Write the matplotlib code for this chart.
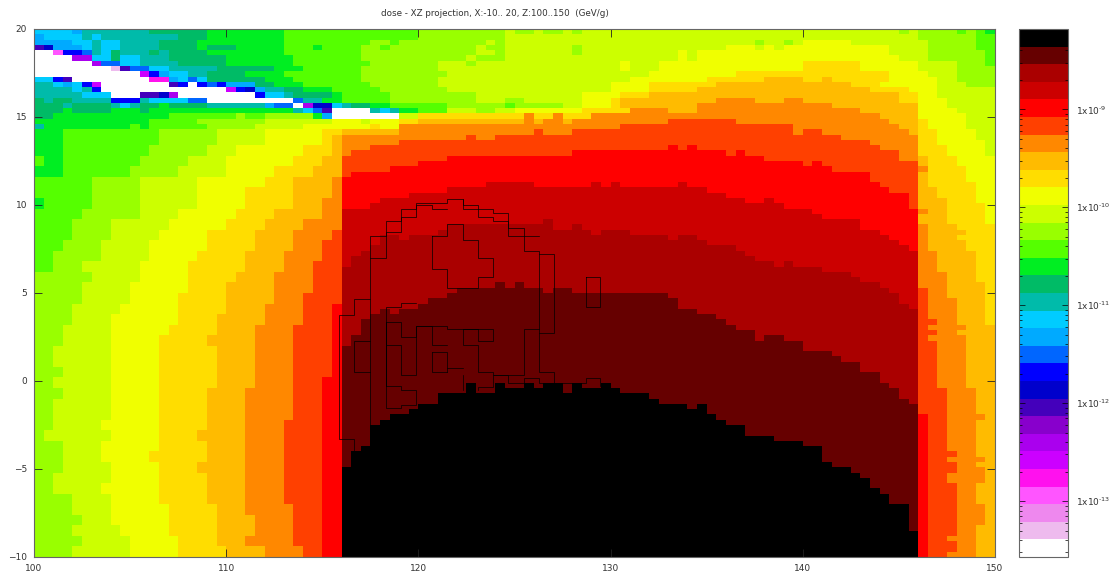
import numpy as np
import matplotlib
matplotlib.use('Agg')
import matplotlib.pyplot as plt
from matplotlib.colors import ListedColormap, LogNorm

# palette, lowest band first; each letter in the tables below is one band
codes = 'dcbaZYXWVUTSRQPONMLKJIHGFEDCBA'
palette = ['#ffffff', '#eebbee', '#ee88ee', '#ff55ff', '#ff11ee', '#cc00ff', '#aa00ee', '#8800cc',
           '#4400bb', '#0000cc', '#0000ff', '#0066ff', '#00aaff', '#00ccff', '#00bbaa', '#00bb66',
           '#00ee22', '#55ff00', '#99ff00', '#ccff00', '#f0ff00', '#ffdd00', '#ffbb00', '#ff8800',
           '#ff4000', '#ff0000', '#cc0000', '#aa0000', '#660000', '#000000']
dose_min = 10 ** -13.57
dose_max = 10 ** -8.18

# rows from the top of the plot, "band + first column", up to column 91
top_rows = [
    'Q0 R4 P5 O12 N18 M26 L40 K49 L50 K52 L53 K55 L56 K57 L90 K91',
    'R0 Q1 P5 Q6 P7 O15 N18 M26 L40 K49',
    'R0 Q4 P6 Q7 P9 O13 N17 M26 L35 M37 L38 K47 L48 K49 L75 K76 L78 K79 J80 K85',
    'V0 U1 R2 Q5 P6 Q7 P9 O13 N17 O18 N21 M26 N29 M30 L34 M36 L37 K46 L47 K49 L56 K57 J72 K75 J76 K77 J78 K89',
    'd0 a2 T3 S5 P6 Q7 O8 P9 O12 P13 O14 N18 M26 L34 K46 L48 K49 L56 K57 J67 K68 J69 K89',
    'd0 X4 Q6 O8 Q9 P11 O14 N20 M27 L34 K45 L46 K49 J67 K68 J69 K90',
    'd0 X6 S7 Q9 P11 O15 N20 M27 L35 K42 L45 K46 J61 K62 J65 I80 J86',
    'd0 c8 V9 S10 Q12 P14 O19 N25 M28 L34 K42 J61 K62 J65 I80 J86',
    'd0 Y11 T12 R13 Q14 P16 O18 N22 M26 L34 K43 J64 I73 J89',
    'Q0 T2 V3 d4 Z12 R14 Q15 S16 Q17 O18 N24 M27 L34 K42 J62 I70 H76 I80 H82 I83 J89',
    'P0 Q2 R3 Q4 T5 Y6 d7 V14 T15 d16 T17 S18 T19 R20 O23 N25 M28 L35 K42 J60 I64 H71 I85 J88',
    'P0 Q4 P5 T6 d7 Y20 T21 U22 R23 P24 O26 N28 M31 L36 K43 J60 I64 H69 I87 J91',
    'P0 Q5 d8 V11 U13 X14 d15 T23 Q24 P26 O27 N31 M32 L37 K46 J57 I61 H64 I90',
    'O0 P1 O2 P4 T8 P11 Q12 S16 d18 S27 P28 N30 M32 L37 K46 L49 K51 J57 I60 H61 G71 H75 G78 H80 I90',
    'O0 P3 O4 P8 Q9 P10 O11 N13 O14 P18 R24 S25 d27 X28 U29 Q31 P32 O33 N35 M37 L43 M49 L50 K55 J57 I60 H61 G69 H83',
    'O0 N3 O4 N8 O11 N12 P27 Q28 S29 V30 d31 P35 Q36 P37 N38 M40 K43 L46 K48 J50 I57 G62 H66 G69 H86',
    'O0 N2 M14 L21 M22 L24 N29 R30 d31 K38 I40 G51 I52 G54 I55 G58 H88',
    'N0 M12 L17 K24 J31 K34 J35 I38 H40 G51 H52 G53 H55 G56 H89',
    'P0 N1 M10 N11 M12 L18 K23 J28 I35 J36 G38 H90',
    'N0 M3 L13 K19 J24 I30 H32 G38 H91',
]

# columns 0..31 below that, each entry covers two rows
left_rows = [
    'N0 M3 L13 K19 J24 I30 H31', 'N0 M3 L12 K18 J21 I28 H31', 'M0 N1 M3 L11 K16 J20 I27 H30',
    'N0 M3 L10 K15 J20 I25 H29', 'M0 L6 K11 J17 I24 H27 G31', 'M0 L6 K11 J17 I22 H27 G31',
    'N0 M1 L6 K11 J17 I22 H27 G30', 'M0 L5 K11 J15 I21 H25 G30', 'M0 L4 K8 J14 I20 H24 G28',
    'M0 L4 K8 J13 I18 H23 G27 F31', 'M0 L3 K7 J12 I18 H23 G27 F30', 'M0 L2 K7 J12 I17 H22 G26 F30',
    'M0 L2 K5 J11 I16 H22 G26 F29', 'L0 K6 J11 I16 H21 G25 F29', 'L0 K5 J10 I16 H20 G25 F29',
    'L0 K5 J10 I15 H20 G25 F28', 'L0 K4 J9 I15 H20 G24 F28 E31', 'L0 K4 J8 I15 H19 G24 F28 E31',
    'L0 K3 J8 I14 H19 G23 F27 E31', 'L0 K3 J8 I13 H18 G23 F27 E31', 'L0 K2 J8 I13 H19 G23 F27 E31',
    'L0 K2 J8 I13 H19 G23 F27 E31', 'L0 K3 J8 I13 H19 G23 F27 E31', 'L0 K2 J8 I13 H19 G23 F27 E30',
    'L0 K3 J8 I13 H18 G22 F27 E30', 'L0 K2 J8 I13 H18 G22 F27 E30', 'L0 K2 J8 I13 H18 G22 F27 E30',
    'L0 K2 J7 I13 H18 G22 F26 E30', 'L0 K1 J8 I13 H17 G22 F26 E30', 'L0 K3 J7 I13 H18 G22 F26 E30',
    'L0 K3 J7 I12 H18 G22 F26 E30', 'L0 K3 J8 I13 H17 G22 F26 E30', 'L0 K2 J8 I13 H18 G22 F26 E30',
    'L0 K2 J7 I13 H18 G22 F26 E30', 'L0 K4 J8 I13 H18 G22 F26 E30', 'L0 K4 J8 I14 H19 G22 F27 E30',
    'L0 K5 J8 I14 H19 G23 F27 E30', 'L0 K4 J9 I14 H19 G23 F27 E30', 'L0 K5 J10 I15 H19 G22 F27 E30',
    'L0 K4 J10 I15 H20 G24 F28 E30',
]

# first row of each band in columns 32..91
top_F = [24, 23, 23, 22, 22, 22, 21, 21, 21, 21, 21, 21, 21, 20, 21, 21, 20, 20, 20, 20, 19, 20, 20, 20, 19, 19, 19, 19, 19, 18,
         18, 18, 18, 18, 17, 17, 17, 17, 17, 17, 17, 18, 18, 18, 18, 18, 18, 20, 19, 19, 20, 20, 21, 21, 21, 22, 23, 23, 25, 25]
top_E = [28, 27, 27, 27, 27, 26, 26, 26, 25, 25, 25, 24, 24, 24, 24, 24, 24, 24, 24, 24, 24, 24, 24, 24, 23, 23, 23, 23, 23, 23,
         23, 23, 23, 23, 22, 23, 22, 23, 23, 23, 24, 23, 24, 24, 25, 25, 25, 25, 26, 25, 26, 27, 27, 27, 27, 29, 30, 31, 31, 34]
top_D = [34, 34, 34, 33, 32, 32, 32, 31, 31, 31, 31, 30, 30, 30, 30, 29, 29, 29, 29, 29, 30, 30, 30, 30, 30, 30, 29, 30, 29, 30,
         30, 30, 30, 30, 30, 29, 30, 30, 31, 31, 32, 32, 33, 33, 32, 33, 34, 34, 34, 35, 36, 36, 36, 36, 38, 38, 39, 40, 41, 42]
top_C = [45, 43, 42, 41, 39, 39, 40, 39, 39, 39, 38, 37, 37, 37, 37, 37, 37, 37, 37, 37, 37, 36, 38, 38, 37, 38, 39, 38, 38, 38,
         39, 39, 39, 39, 40, 39, 39, 40, 41, 41, 41, 42, 43, 44, 44, 45, 44, 45, 45, 45, 46, 46, 46, 47, 48, 48, 49, 50, 52, 53]
top_B = [60, 58, 55, 54, 53, 54, 53, 53, 52, 51, 51, 50, 49, 49, 49, 49, 48, 49, 48, 49, 49, 50, 49, 49, 50, 50, 50, 50, 50, 50,
         50, 50, 50, 50, 51, 53, 53, 54, 54, 55, 56, 57, 57, 59, 58, 58, 59, 59, 61, 61, 61, 62, 63, 63, 65, 65, 67, 68, 70, 71]
top_A = [83, 80, 79, 75, 74, 73, 73, 72, 71, 71, 69, 69, 69, 67, 69, 69, 67, 68, 68, 67, 68, 67, 67, 69, 67, 68, 68, 67, 68, 69,
         69, 69, 70, 71, 71, 71, 72, 71, 73, 74, 75, 75, 77, 77, 77, 78, 78, 78, 79, 79, 82, 83, 83, 84, 85, 87, 88, 90, 90, 95]

# columns 92..99 top to bottom, "band + first row"
right_cols = [
    'L0 K2 J8 I17 H24 G26 H27 G34 H35 G37 F49 E73',
    'L0 K6 J9 I19 H30 G42 F55 G56 F57 G58 F59',
    'L0 K6 J13 I22 H32 G46 F68',
    'L0 K6 J15 I24 H37 G51 F80 G81 F82 G84 F86 G96 F97 G99',
    'M0 L1 K10 J16 I26 H38 I39 H40 G56 H57 G58',
    'L0 K11 J19 I29 H42 G68',
    'M0 L4 K11 J21 I33 H48 G73 H74 G81 H82 G83 H86 G90 H94',
    'N0 M1 L7 K11 J24 I37 H56',
]

# region outlines
outline_x = [
    [116.67, 116.67, 115.87, 115.87, 116.67, 116.67, 117.46, 117.46, 118.30, 118.30, 119.08, 119.08, 119.87, 119.87, 121.47, 121.47,
     122.30, 122.30, 123.08, 123.08, 123.88, 123.88, 124.68, 124.68, 125.48, 125.48, 126.29, 126.29, 127.07, 127.07],
    [117.46, 117.46],
    [117.46, 118.30, 118.30, 119.08, 119.08, 119.87, 119.87, 120.69, 120.69, 121.47],
    [122.30, 122.30, 123.08, 123.08, 123.88, 123.88, 124.68, 124.68, 126.29],
    [120.69, 121.47, 121.47, 122.30, 122.30, 123.08, 123.08, 123.88, 123.88, 123.08, 123.08, 121.47, 121.47, 120.69, 120.69],
    [126.29, 127.07, 127.07, 126.29],
    [128.70, 129.47, 129.47, 128.70, 128.70],
    [117.46, 116.67, 116.67, 117.46],
    [119.87, 119.08, 119.08, 118.30, 118.30, 119.08, 119.08, 119.87, 119.87, 119.08, 119.08, 118.30, 118.30, 119.08, 119.08, 119.87, 119.87, 120.69, 120.69, 121.47],
    [118.30, 119.08, 119.08, 119.87, 119.87, 121.47, 121.47, 123.88, 123.88, 123.08, 123.08, 122.30, 122.30, 123.08, 123.08, 123.88, 123.88, 125.48, 125.48, 126.29],
    [120.69, 121.47, 121.47],
    [120.69, 120.69, 121.47],
    [121.47, 122.30],
    [122.30, 122.30],
    [123.08, 123.08, 123.88, 123.88, 124.68, 124.68, 125.48, 125.48, 126.29, 126.29, 127.07, 127.45, 127.97, 128.70, 128.70, 129.47, 129.47],
]
outline_y = [
    [-3.98, -3.30, -3.30, 3.75, 3.75, 4.64, 4.64, 8.24, 8.24, 9.11, 9.11, 9.75, 9.75, 10.13, 10.13, 10.36,
     10.36, 9.98, 9.98, 9.75, 9.75, 9.53, 9.53, 8.67, 8.67, 7.39, 7.39, 0.53, 0.53, -0.09],
    [4.64, -2.50],
    [6.97, 6.97, 8.45, 8.45, 9.34, 9.34, 9.98, 9.98, 9.75, 9.75],
    [10.36, 9.75, 9.75, 9.34, 9.34, 9.11, 9.11, 8.24, 8.24],
    [8.24, 8.24, 8.90, 8.90, 8.01, 8.01, 6.97, 6.97, 5.89, 5.89, 5.27, 5.27, 6.34, 6.34, 8.24],
    [7.20, 7.20, 2.71, 2.71],
    [5.89, 5.89, 4.19, 4.19, 5.89],
    [2.27, 2.27, 0.53, 0.53],
    [4.41, 4.41, 4.19, 4.19, -1.55, -1.55, -1.36, -1.36, -0.51, -0.51, -0.28, -0.28, 3.33, 3.33, 2.50, 2.50, 3.14, 3.14, 2.06, 2.06],
    [2.06, 2.06, 0.34, 0.34, 3.14, 3.14, 2.94, 2.94, 2.27, 2.27, 2.94, 2.94, 2.06, 2.06, 0.53, 0.53, 0.34, 0.34, 2.94, 2.94],
    [1.63, 1.63, 0.53],
    [1.63, 0.53, 0.53],
    [0.76, 0.76],
    [0.34, -0.51],
    [-0.51, -0.32, -0.32, 0.34, 0.34, -0.09, -0.09, 0.15, 0.15, -0.09, -0.09, -0.09, -0.09, -0.09, 0.15, 0.15, -0.28],
]

x_ticks = [100, 110, 120, 130, 140, 150]
y_ticks = [-10, -5, 0, 5, 10, 15, 20]
cb_ticks = [1e-13, 1e-12, 1e-11, 1e-10, 1e-9]
cb_labels = ['-13', '-12', '-11', '-10', '-9']


def fill(spec, start, stop, put):
    tokens = spec.split()
    for k, tok in enumerate(tokens):
        end = int(tokens[k + 1][1:]) if k + 1 < len(tokens) else stop
        put(int(tok[1:]) + start, end + start if k + 1 < len(tokens) else stop, codes.index(tok[0]))


bands = np.zeros((100, 100), dtype=int)


def put_row(rows):
    def put(a, b, v):
        bands[rows, a:b] = v
    return put


for r, spec in enumerate(top_rows):
    fill(spec, 0, 92, put_row(r))
for r, spec in enumerate(left_rows):
    fill(spec, 0, 32, put_row(slice(20 + 2 * r, 22 + 2 * r)))
bands[20:, 32:92] = codes.index('G')
for letter, tops in zip('FEDCBA', [top_F, top_E, top_D, top_C, top_B, top_A]):
    for c, t in enumerate(tops):
        bands[t:, 32 + c] = codes.index(letter)
for c, spec in enumerate(right_cols):
    def put_col(a, b, v, col=92 + c):
        bands[a:b, col] = v
    fill(spec, 0, 100, put_col)

step = (np.log10(dose_max) - np.log10(dose_min)) / len(codes)
dose = dose_min * 10 ** ((bands + 0.5) * step)

x_edges = np.linspace(100, 150, 101)
y_edges = np.linspace(20, -10, 101)

W, H = 1111, 577
fig = plt.figure(figsize=(W / 100, H / 100), dpi=100)
ax = fig.add_axes([34 / W, (H - 557) / H, 961 / W, 528 / H])
cmap = ListedColormap(palette)
norm = LogNorm(dose_min, dose_max)
mesh = ax.pcolormesh(x_edges, y_edges, dose, cmap=cmap, norm=norm, shading='flat', antialiased=False, linewidth=0)
for xs, ys in zip(outline_x, outline_y):
    ax.plot(xs, ys, color='black', lw=0.5, solid_joinstyle='miter')
ax.set_xlim(100, 150)
ax.set_ylim(-10, 20)
ax.set_xticks(x_ticks)
ax.set_yticks(y_ticks)
ax.tick_params(direction='in', length=5.8, width=0.6, top=True, right=True, labelsize=6.5, labelcolor='#333333', pad=5, color='#222222')
for s in ax.spines.values():
    s.set_linewidth(0.8)
    s.set_color('#666666')
fig.text(381 / W, 1 - 13 / H, 'dose - XZ projection, X:-10.. 20, Z:100..150  (GeV/g)', fontsize=6.3, color='#333333', ha='left', va='center')

cax = fig.add_axes([1019 / W, (H - 557) / H, 49 / W, 528 / H])
cb = fig.colorbar(mesh, cax=cax)
cb.set_ticks(cb_ticks)
cb.set_ticklabels(['1x10$^{\\text{%s}}$' % s for s in cb_labels])
cax.yaxis.set_minor_locator(matplotlib.ticker.LogLocator(base=10, subs=np.arange(2, 10), numticks=20))
cax.yaxis.set_minor_formatter(matplotlib.ticker.NullFormatter())
cax.tick_params(which='major', direction='in', length=4, width=0.5, left=True, right=True, labelsize=6.5, labelcolor='#333333', pad=6)
cax.tick_params(which='minor', direction='in', length=2, width=0.5, left=True, right=True)
cb.outline.set_linewidth(0.8)
cb.outline.set_edgecolor('#666666')

fig.savefig('out.png', dpi=100)
